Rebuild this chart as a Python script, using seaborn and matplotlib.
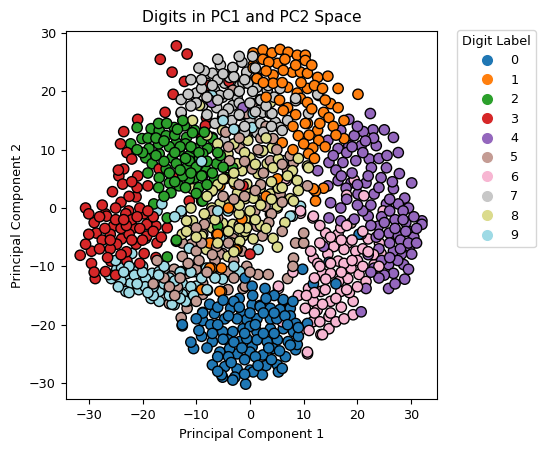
import pandas as pd
import numpy as np
import seaborn as sns
import matplotlib
matplotlib.use("Agg")
import matplotlib.pyplot as plt
from matplotlib.lines import Line2D

# Points (PC1, PC2) for each digit
pts_0 = [(-8.8, -17.9), (-6.6, -18.1), (-8.8, -19.3), (-7.3, -20), (-12.6, -20.2), (-3.6, -17.2), (-1.5, -18.1),
         (0.4, -16.6), (1.9, -16.7), (3.8, -17.2), (6.2, -15.9), (5.6, -17.4), (7.5, -17.2), (-5.1, -21.2),
         (-3.2, -21.2), (-1.3, -20.7), (1.3, -21.2), (3.8, -20.7), (6.2, -20.7), (8.1, -21.2), (10.3, -20.3),
         (-7, -22.9), (-4.1, -22.6), (-1.9, -22.9), (0.4, -23.8), (3.2, -22.9), (5.1, -22.6), (7.1, -22.9),
         (8.5, -24.3), (-10.5, -24.1), (-5.6, -24.7), (-2.4, -25), (0, -24.7), (2.4, -25.2), (6.6, -25.5),
         (-7, -26.9), (-4.7, -27.2), (-2.4, -27.6), (0, -27.8), (2.3, -28.6), (5.1, -26.9), (-2.8, -29),
         (-0.8, -30.2), (-5.1, -29), (2.8, -13.8), (0.4, -13.4), (9.8, -10.5), (-4.7, -19), (1.3, -19),
         (3.8, -19), (-0.6, -19.1), (5, -19), (-2.4, -19), (1.3, -22.6), (-0.6, -22.4), (4.3, -24.1),
         (-3.8, -24.1), (10.7, -19.8), (-8.8, -18), (-5.3, -28.6), (-3.2, -29.5), (20.3, -4.5), (14.7, -9.3),
         (16, -13), (11.8, -13), (-0.9, -12), (0, -20.3), (1.9, -16.9), (6.2, -15.7), (7.5, -18.5),
         (8.8, -23.4), (8.5, -19.8), (5.3, -28.1), (0.6, -28.1), (-7.5, -16.5), (-2, -15.5), (4.5, -15),
         (-6, -20), (9, -22), (-9, -22), (3, -27), (-1, -26), (-3, -16), (-12.6, -20),
         (-6, -17), (-4, -18.5), (-2, -17), (0, -18), (2.5, -18), (4.5, -18), (6.5, -18.5), (-7, -21.5),
         (-5, -22.5), (-3, -23), (-1, -21.5), (1, -20), (2.5, -21.5), (4.5, -21.5), (7, -20), (9, -20.5),
         (-8, -24), (-6, -25.5), (-4, -25.5), (-1.5, -24), (1, -25.5), (3.5, -24), (5.5, -24.5), (7.5, -23.5),
         (-6, -28), (-3.5, -26.5), (-1, -28.5), (1.5, -27), (4, -26), (6, -27.5), (-9.5, -21), (-11, -23),
         (8, -16), (3, -15.5), (-5, -15.8), (0.5, -15), (-10, -19)]

pts_1 = [(0.6, 26.6), (2.4, 27.1), (4.1, 26.6), (5.6, 27.2), (7.1, 26.7), (8.8, 26.2), (10.3, 26.2), (2.4, 25.5),
         (5.1, 24.8), (10.3, 25.3), (0.6, 24.5), (7.9, 23.3), (9.4, 23.3), (10.7, 23.1), (12.6, 22.4),
         (14.5, 22.6), (4.3, 22.8), (1.3, 22.4), (16.4, 20.5), (20.1, 19.5), (10.7, 20.5), (12.8, 19.3),
         (15, 17.9), (16.4, 17.2), (7, 20.7), (8.8, 19.7), (1.9, 18.4), (7, 17.2), (9.4, 18.8), (10.7, 18.1),
         (13.7, 16.4), (14.7, 15.5), (17.5, 15), (10.7, 14.5), (12.6, 13.3), (9, 12.4), (17.5, 11.9),
         (12.8, 11.6), (11.7, 10.3), (10.9, 9.3), (13.7, 3.4), (12.2, 2.9), (12.2, 1.2), (6.2, 16.7),
         (4.3, 21.4), (6.2, 23.6), (0.6, 24), (1.3, 22.2), (1.9, 18.6), (10.3, 14.5), (11.8, 3.3),
         (-5.6, 3.8), (-2.8, 4.1), (-6, -4.5), (-2.4, -7.1), (-1.5, -1.7), (-7.5, -6), (5.1, 5), (6, 11.2),
         (-7.9, -14.1), (-5.3, -14.3), (-7.1, -10.3), (-7.5, -10.3), (-5.3, -10.3), (-5.6, -14.3), (-9, -14),
         (-1.5, -1.9), (-2.6, -7.2), (3, 2), (-4, 0), (8, 10),
         (3.5, 25), (6.5, 25.5), (8.5, 24.5), (11.5, 24.5), (12, 21), (13.5, 20.5), (9.5, 21.5), (6, 21.5),
         (3, 23.5), (14, 18.5), (11.5, 17), (8.5, 16), (15.5, 14), (13, 14.5), (16, 12.5), (11, 12.5),
         (14, 10.5), (12, 8.5), (10, 11), (8, 14), (5.5, 18.5), (3, 19), (2.5, 21.5)]

pts_2 = [(-18.4, 13.6), (-20.1, 11.9), (-22.2, 11), (-16.9, 13.3), (-15.6, 12.4), (-13.7, 11.2), (-12.2, 14.1),
         (-10.3, 13.3), (-11.8, 12.1), (-7, 12.1), (-18.8, 10.2), (-16.9, 9.3), (-14.5, 8.6), (-13.2, 9.8),
         (-11.3, 9), (-9.4, 8.6), (-7.9, 10.2), (-10.3, 10.2), (-19.4, 8.6), (-18.2, 7.6), (-15.6, 6.7),
         (-13.7, 7.6), (-11.8, 6.9), (-10.3, 5.2), (-8.1, 6.4), (-6.2, 7.6), (-16.9, 5.2), (-15, 4.3),
         (-13.2, 3.8), (-11.3, 5), (-4.3, 5.2), (-7.1, 2.9), (-14.7, 2.6), (-17.9, 0.7), (-9, 1.2),
         (-3.2, 6.9), (-14.1, 13.8), (-10.7, 12.9), (-7, 11.9), (-8.8, 9.3), (-11.3, 8.1), (-6.6, 5),
         (-8.8, 1.2), (-6, -3.1), (-13.7, -5.7), (-15.4, -1.7), (-13.7, -5.5), (-15.4, -8.4), (-12.8, -10.9),
         (-7.1, -11.2), (-17, 11), (-12, 11), (-9, 11.5), (-15, 10.5), (-20, 9.5), (-12.5, 5.5), (-9.5, 3.5),
         (-16, 2), (-5.5, 9), (-21, 13.8), (-17, 14.5), (-12.5, 15),
         (-19, 12), (-17.5, 12), (-16, 11.5), (-14, 12.5), (-13, 10.5), (-11, 10.5), (-9.5, 9.5), (-8, 8),
         (-10, 7), (-12, 8.5), (-14, 9.5), (-16, 8), (-17.5, 9), (-15, 6), (-13, 6.5), (-11, 6), (-9, 5.5),
         (-7, 6), (-8, 4), (-12, 3.5), (-10, 2.5), (-14, 4.5), (-17, 3.5), (-19, 6), (-21, 10), (-6, 9.5),
         (-5, 7), (-8.5, 13), (-13.5, 13.5), (-15.5, 14.5)]

pts_3 = [(-13.7, 27.8), (-16.7, 25.5), (-11.7, 26.4), (-14.5, 23.3), (-12.2, 21.7), (-14.3, 19.5), (-15.8, 16.4),
         (-20.9, 15.2), (-23.5, 13.1), (-24.1, 11), (-22.9, 9.5), (-22, 8.4), (-23.5, 6.7), (-24.4, 5.5),
         (-20.9, 5.5), (-19, 3.8), (-23.7, 4.1), (-25.6, 2.8), (-21.2, 1.9), (-16.9, 6.7), (-13.7, 5.2),
         (-7.7, 21), (-3.9, 21.7), (-8.1, 15.5), (-5.1, 15.5), (-8.3, 14.1), (-9, 11.9), (-30.6, 0),
         (-26.9, -1), (-22.6, -0.5), (-26.7, -1.4), (-28.6, -4.3), (-25.4, -3.1), (-23.9, -5.3), (-21.6, -3.4),
         (-19.2, -4.8), (-17.5, -3.1), (-15.4, -3.4), (-21.2, -6.2), (-19.7, -7.8), (-17.3, -6), (-31.6, -8.1),
         (-29.5, -7.4), (-25.9, -9.1), (-26.9, -10.9), (-28.8, -12.1), (-22.9, -9.1), (-24.8, -6.2),
         (-30.6, -6.2), (-23.1, -1), (-19.7, -1), (-19.2, -2.8), (-1.3, 3.8), (-4.7, 5), (-11.3, 1.2),
         (0, -7.9), (-27.5, -5.5), (-26, -7), (-22.5, -4.5), (-20.5, 0), (-18, -1.5), (-24, 1), (-27.5, 0.5),
         (-21, 3.5), (-25, -11.5), (-29.5, -9.5), (-23, -7.5), (-20.5, -9.5), (-17.5, -8.5), (-22, -2),
         (-26, -4.5), (-29, -2.5), (-24, -3.5), (-20, -5.5),
         (-28, -1.5), (-25, -2), (-23, -3), (-21, -1.5), (-19, -0.5), (-27, -3.5), (-30, -4.5), (-28, -7),
         (-26.5, -8.5), (-24, -8), (-22, -5.5), (-20.5, -3.5), (-18, -4), (-16.5, -5), (-25, 0), (-22.5, 2),
         (-24.5, 6.5), (-22, 4.5), (-26, -5.5), (-29, -11), (-23.5, -2), (-30, -1)]

pts_4 = [(22.4, 16.2), (18.4, 15.2), (25, 13.4), (26.7, 12.1), (22.9, 13.4), (21.1, 13.1), (19.4, 12.4),
         (16.9, 13.3), (14.5, 11.6), (16.4, 10.2), (18.4, 10.7), (20.7, 10.7), (23.5, 10.7), (27.6, 9.5),
         (22.2, 8.4), (19.7, 8.1), (17.3, 7.8), (14.7, 7.8), (12.6, 6.4), (25.4, 6.9), (22.6, 6.9), (27.8, 5.9),
         (30.1, 4.3), (24.4, 5.2), (21.6, 4.3), (18.8, 4.3), (16.4, 4.7), (14.5, 3.8), (17.9, 3.4), (26.7, 3.3),
         (28.8, 1.7), (23.1, 2.4), (20.1, 2.4), (15, 0.9), (16.9, 0), (27.6, 0.7), (25.4, 0.7), (29.5, 0),
         (32, -2.2), (32, -2.8), (29.7, -6.6), (28.2, -7.9), (25.9, -4.3), (23.9, -3.1), (22, -1.4),
         (19.4, -1.9), (16.9, -2.2), (14.7, -1.7), (13.7, -6.6), (23.1, -10.3), (25.8, -9.7), (26.7, -11.2),
         (28.8, -12.2), (25.8, -13.8), (28.6, -9.7), (21.6, -13.8), (20.7, -17.8), (29.5, -4), (27.6, -4.8),
         (30.1, -7.9), (26.7, -7.4), (-7.1, 18.1), (-1.3, 17.2), (24.5, -1.5), (27, -2), (29, -2.5), (26, -6),
         (28, -5.5), (30.5, -5), (24, -7), (27.5, -9), (25, -11.5), (29.5, -10.5), (23.5, -5), (21, -0.5),
         (26, -0.5), (28.5, -0.5), (30.5, -1.5), (24.5, -9), (22, -8), (27, -13), (20, 0.5), (18, 1.5),
         (22.5, 0.5), (31, -3.5), (19, 6), (24, 8.5), (21, 9.5),
         (25, -2.5), (27, -3.5), (29, -4), (28, -7), (26, -8.5), (24, -4.5), (22.5, -3), (26, 1.5), (24, 3.5),
         (22, 5.5), (20, 4), (25.5, 9), (23, 12), (20, 14), (18, 9.5), (16, 6.5), (19, 10.5), (24, -12),
         (22.5, -11), (29.5, -6), (31, -6), (28.5, -2), (26.5, 4.5), (21.5, 11.5), (17, 5.5), (15.5, 9)]

pts_5 = [(-8.8, -4.5), (-6.2, -6.2), (-3.2, -5.2), (-10.9, -6.2), (-12.6, -6), (-14.1, -10.5), (-14.7, -11.7),
         (-16.9, -14), (-15, -16.4), (-12.8, -18.8), (-11.7, -17.2), (-8.8, -12.9), (-4.1, -10.9), (-1.5, -7.4),
         (-1.3, -13.8), (-11.7, -11.2), (-8.8, -14.8), (-10, -10.5), (0.6, -2.2), (-5.1, -7.8), (-12.6, -8.3),
         (8.1, -8.6), (1.5, -11.4), (3.4, -11.4), (7, -12.1), (-0.6, -10), (-0.9, -13.4), (-4.1, -14),
         (-11.8, -15.5), (-5.6, -7.9), (1.3, -3.1), (2.3, -4.8), (9.8, -6), (18.8, -2.6), (-3.2, 20.2),
         (0.4, 17.9), (-0.6, 16.2), (4.3, 11.9), (3.8, 8.1), (-1.9, 10.2), (-3.8, 8.1), (0.4, 6.7), (7, 6.4),
         (8.1, 7.8), (7.5, 9), (5.6, 2.4), (2.8, 0.3), (0.9, -0.5), (-2.4, 0), (-6, -1.7), (-8.5, -2.8),
         (-10, -3.4), (-4.1, -4), (8.5, -6), (10, -6), (10.7, 3.8), (10, -4.3), (-6.2, -6.6), (-10, -7.4),
         (-6.5, -9), (-9.5, -9), (-13.5, -13.5), (-2, -3), (2, 4), (-1, 2), (4, -1), (6, 1), (-5, 2),
         (-7, -0.5), (3, 14), (1.5, 10), (-4.5, 13), (-3, -9), (-16, -12), (-17.3, -9),
         (-2, 12), (2, 12), (5, 10), (6, 7.5), (-4, 10.5), (-1, 8), (2.5, 6), (1, 3), (-3, 1.5), (3.5, -2.5),
         (-4, -6), (-7, -8), (-9, -6), (-11.5, -9.5), (-13, -12), (-10, -16), (-8, -11), (-3, -12), (0, -11),
         (8, -10), (-15, -13.5), (-14, -15), (-18, -13), (-2, 4), (6, -4)]

pts_6 = [(9.4, -0.9), (11.7, -1.7), (14.1, -4.3), (16.4, -4.5), (18.2, -6), (15.6, -6.6), (17.5, -7.1),
         (19.7, -7.4), (22, -5.3), (24.1, -6), (23.1, -9.7), (20.3, -11.4), (18.8, -10.3), (16.4, -9.1),
         (13.5, -11.2), (15, -11.2), (18.2, -12.1), (21.6, -12.6), (10.9, -13.8), (13.2, -14.3), (16.9, -14.3),
         (15, -16), (19.2, -16), (11.8, -16), (10.3, -17.2), (14.7, -18.6), (19.2, -18.3), (11.7, -19.5),
         (9.4, -20.9), (13.2, -21.7), (14.7, -20.7), (10.7, -25), (5.3, -13.8), (11.8, -8.6), (11.3, -7.4),
         (14.5, -7.9), (12.6, -9.5), (16.9, -3.4), (20.7, -4.5), (24.4, -7.8), (14.1, -12.2), (16.5, -12.6),
         (5.3, -13.4), (10.7, -24.7), (13.5, -21.7), (6, -19.5), (19.4, 4.8), (18, 2.2), (21.2, 2.1),
         (24.8, -0.5), (6.8, 4.7), (6.6, 5), (9.4, -0.5), (11.8, -1.4), (13, -6), (17.5, -9.5), (20, -9),
         (12.5, -17.5), (17, -17), (16, -19.5), (9, -15), (8, -11), (21, -7), (18.5, -14.5),
         (13, -3), (15, -5), (17, -5.5), (19, -5.5), (21, -4), (23, -8), (21, -10), (19, -9), (17, -11),
         (15, -9.5), (13, -10), (12, -12), (14, -14), (16, -15.5), (18, -14), (20, -13.5), (12, -14.5),
         (13.5, -16.5), (15, -18), (17.5, -19), (10.5, -15), (12, -18), (11, -21), (13, -19.5), (18, -3),
         (22, -7.5), (24, -10)]

pts_7 = [(-7, 23.1), (-3.2, 24), (-4.7, 21.4), (-8.1, 21.4), (-10.3, 19.3), (-12.8, 18.6), (-12.8, 16.2),
         (-9, 17.6), (-6.6, 20.2), (-1.9, 21), (-0.6, 23.1), (-5.1, 19), (-3.2, 17.6), (-6.2, 17.2), (-3.4, 15),
         (-0.6, 15.9), (-4.7, 11.6), (-3.2, 24.1), (0, 23.3), (-10, 19.7), (-8.8, 17.6), (-12.8, 16.4),
         (-5.6, 19.3), (-2.4, 19), (3.2, 20.2), (2.4, 16.4), (3.8, 16.2), (4.7, 14.7), (-2.4, 13.3), (0, 15),
         (1.3, 12.9), (6.2, 8.1), (5.6, 13.8), (8.5, 18.4), (1.9, 9.5), (-3.8, 22.4), (-1.3, 21.4), (1.3, 20.7),
         (-0.6, 23.3), (-0.4, 21.4), (3.4, 21), (5.6, 20.5), (8.5, 18.8), (10.9, 16.2), (12.6, 19.5),
         (4.1, 16.2), (6, 13.3), (-11, 22), (-9, 20.5), (-7.5, 18.5), (-4, 17), (-2, 18), (-8.5, 23.5),
         (-5.5, 24.5), (-1.5, 25), (-6, 22), (0.5, 20), (2, 14.5), (-1, 13), (4.5, 19), (-11.5, 19.5),
         (-9, 22), (-7, 21), (-5, 23), (-3, 22.5), (-1, 22), (1, 24), (-10, 18), (-8, 19), (-6, 18.5),
         (-4, 19.5), (-2, 20), (0, 18), (2, 18.5), (-5, 16), (-2, 16), (1, 16.5), (3, 17.5), (-8, 16),
         (-11, 17.5), (-6.5, 14.5), (-1, 14), (2.5, 13), (-9.5, 24), (-6, 25.5), (-2, 26), (0.5, 26), (4, 14),
         (7, 15)]

pts_8 = [(-5.1, 13.3), (-10.7, 15), (-0.6, 12.1), (2.3, 9.8), (4.1, 10.3), (-1.5, 6.4), (1.5, 5.9), (3.2, 7.6),
         (5.1, 3.4), (3.8, 2.4), (-0.6, 3.4), (0.9, 1.7), (-2.3, 2.6), (-4.1, 0.7), (-5.6, 0.7), (-7.1, 0),
         (-9, 1.7), (-10.7, 3.3), (-12.6, -4.5), (-0.9, 1.6), (0, -1.7), (3.8, -1), (-1.3, -4.8), (-3.4, -6),
         (-5.1, -2.6), (5.1, 0), (8.8, 4.7), (10.7, 7.2), (7.5, 1.6), (-2.4, 7.6), (-4.1, 9.3), (0, 8.6),
         (4.3, -5.2), (-7, -3.4), (-9, -4.8), (-10.7, -2.2), (-11.8, -2.2), (-8.1, -7.1), (-6.2, -4.5),
         (-0.9, -4), (-3.2, -2.8), (-4.1, -8.3), (-1.9, -5.7), (-11.8, -4), (3.8, 18.1), (-0.4, 11.6),
         (2.4, 9.8), (5.3, 8.4), (7.9, 6.4), (10.9, 6.9), (4.3, 6.9), (-0.6, 4.1), (1.9, 3.4), (0.6, 1.7),
         (5.3, 3.4), (8.1, 1.2), (5.1, 0.3), (-0.9, -1.9), (5.1, -6.7), (0.6, -5.3), (-0.6, -3.4),
         (-9.4, 17.6), (-6, 4), (-3, 4.5), (2, -3), (-8, -1), (-2, -1), (6.5, -2.5),
         (-3, 11), (-6, 11), (-8, 12.5), (-1, 9.5), (1, 7.5), (-3, 6), (-5, 5), (-7, 3), (-2, 0.5), (0, -0.5),
         (2, 0.5), (4, 1.5), (6, 3.5), (7, 5.5), (9, 3), (-6.5, -2), (-4, -4), (-2, -3.5), (1, -2), (3, -3.5),
         (-8.5, -1), (-10, -5), (-3, -7.5), (-6, -6), (4, 4.5), (9, 8.5), (3, 12), (-11, 0), (-8, 2)]

pts_9 = [(-24.8, -10.5), (-25.8, -12.1), (-23.1, -12.2), (-21.2, -10.9), (-22.2, -12.9), (-20.7, -14),
         (-19.4, -12.6), (-18.2, -11.2), (-18.4, -15.5), (-16.9, -16), (-15.6, -14), (-12.6, -12.9),
         (-11.7, -16), (-10, -13.4), (-10.3, -10.9), (-16.9, -10.9), (-22, -7.8), (-19.4, -5.2), (-23.9, -10.3),
         (-26.3, -11.4), (-23.1, -14.3), (-20.7, -12.6), (-16.9, -14.3), (-8.1, -10.3), (-5.1, -12.2),
         (-1.9, -10.9), (-17.3, -0.5), (-12.8, -0.9), (-19.4, -12.1), (-14.1, -16.6), (-12.6, -14.8),
         (-1.9, 15.9), (0.4, 13.8), (-7.5, 19.3), (-8.8, 5.5), (-4.1, -0.5), (1.5, -7.1),
         (7.9, -1.4), (5.3, 3.3), (-12.8, -0.5), (-11.3, -6.9), (-5.6, -5.2), (-7.1, 19.3), (-16.4, 0.7),
         (0.6, 16.2), (9.4, 0.3), (7.5, -1.4), (-21.5, -11.5), (-19.5, -13.5),
         (-17.5, -12.5), (-15, -12), (-13.5, -14), (-24, -12.5), (-22.5, -14.5), (-18, -15), (-14.5, -16.5),
         (-20, -10), (-16, -10), (-11, -13.5), (-9, -12), (-13, -11),
         (-25, -9), (-22.5, -10), (-20, -11), (-18, -13.5), (-16, -13), (-14, -12.5), (-12, -16), (-10.5, -15),
         (-21, -13), (-23.5, -11), (-19, -14.5), (-15, -15), (-17, -11.5), (-13, -15.5), (-24.5, -13.5),
         (-11, -11), (-8, -14), (-6.5, -12), (-3, -10), (-3, 13.5), (-5, 15), (-9, 8), (-6, -0.5), (-14, -1.5)]

digit_labels = list(range(10))
all_pts = [pts_0, pts_1, pts_2, pts_3, pts_4, pts_5, pts_6, pts_7, pts_8, pts_9]

rows = []
for d, pts in zip(digit_labels, all_pts):
    for k, (px, py) in enumerate(pts):
        rows.append({"pc1": px, "pc2": py, "digit": d, "order": k})
df = pd.DataFrame(rows)
# mix the classes so the colours overlap like in one scatter call
df = df.sort_values(["order", "digit"]).reset_index(drop=True)

cmap = plt.get_cmap("tab20")
palette = {d: cmap(d / 9) for d in digit_labels}

fig = plt.figure(figsize=(5.46, 4.51), dpi=100)
ax = fig.add_axes([0.1203, 0.1146, 0.680, 0.8173])

sns.scatterplot(data=df, x="pc1", y="pc2", hue="digit", palette=palette,
                s=55, edgecolor="black", linewidth=1, legend=False, ax=ax)

ax.set_xlim(-34.3, 34.8)
ax.set_ylim(-32.8, 30.4)
ax.set_xticks([-30, -20, -10, 0, 10, 20, 30])
ax.set_yticks([-30, -20, -10, 0, 10, 20, 30])
ax.tick_params(labelsize=9.2)
ax.set_title("Digits in PC1 and PC2 Space", fontsize=11.2)
ax.set_xlabel("Principal Component 1", fontsize=9.2)
ax.set_ylabel("Principal Component 2", fontsize=9.2)

handles = [Line2D([0], [0], marker="o", color="w", markerfacecolor=palette[d],
                  markersize=9, label=str(d)) for d in digit_labels]
fig.legend(handles=handles, title="Digit Label", loc="upper left",
           bbox_to_anchor=(457 / 546, 1 - 30 / 451), borderaxespad=0,
           fontsize=9.2, title_fontsize=9.2)

plt.savefig("out.png", dpi=100)
